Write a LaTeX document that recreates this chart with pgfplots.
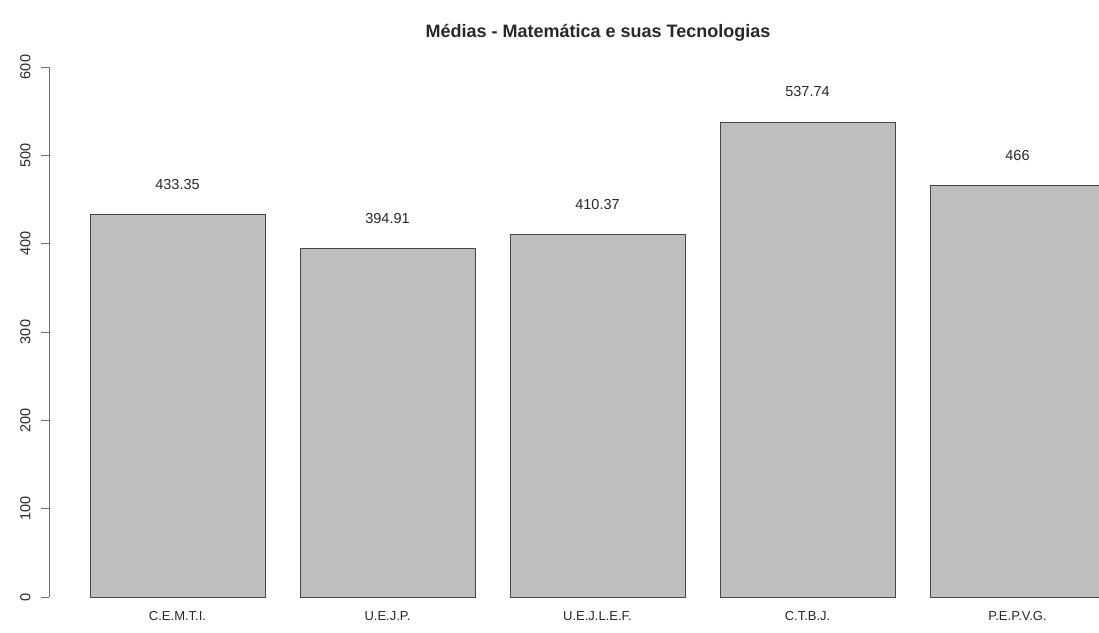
\documentclass[border=0pt]{standalone}
\usepackage{fontspec}
\setmainfont{Liberation Sans}
\usepackage{pgfplots}
\pgfplotsset{compat=1.18}
\definecolor{barfill}{RGB}{190,190,190}
\definecolor{edge}{RGB}{70,70,70}
\definecolor{axisgray}{RGB}{110,110,110}
\definecolor{txt}{RGB}{40,40,40}
\begin{document}
\begin{tikzpicture}
\useasboundingbox (0,0) rectangle (1099pt,632pt);
\begin{axis}[
  at={(49.4pt,35pt)}, anchor=south west,
  scale only axis, width=1049.6pt, height=530pt,
  xmin=-0.032, xmax=5.9657, ymin=0, ymax=600,
  axis lines*=left,
  x axis line style={draw=none},
  y axis line style={draw=axisgray, line width=0.9pt},
  xtick={0.7,1.9,3.1,4.3,5.5},
  xticklabels={C.E.M.T.I.,U.E.J.P.,U.E.J.L.E.F.,C.T.B.J.,P.E.P.V.G.},
  major x tick style={draw=none},
  ytick={0,100,200,300,400,500,600},
  tick align=outside, major tick length=8pt,
  y tick style={draw=axisgray, line width=0.9pt},
  yticklabel style={rotate=90, anchor=center, yshift=16pt, font=\fontsize{14.5}{16}\selectfont, text=txt},
  xticklabel style={anchor=center, yshift=-11pt, font=\fontsize{13}{15}\selectfont, text=txt},
  /pgf/number format/assume math mode=true,
  title={Médias - Matemática e suas Tecnologias},
  title style={at={(0.5227,1.0528)}, anchor=center, font=\bfseries\fontsize{18}{20}\selectfont, text=txt},
]
\addplot[ybar, bar width=1, bar shift=0pt, fill=barfill, draw=edge, line width=0.9pt,
  nodes near coords, point meta=explicit symbolic,
  nodes near coords style={anchor=center, yshift=30pt, font=\fontsize{14.5}{16}\selectfont, text=txt}]
  table[meta=label] {
x y label
0.7 433.35 433.35
1.9 394.91 394.91
3.1 410.37 410.37
4.3 537.74 537.74
5.5 466 466
};
\end{axis}
\end{tikzpicture}
\end{document}
